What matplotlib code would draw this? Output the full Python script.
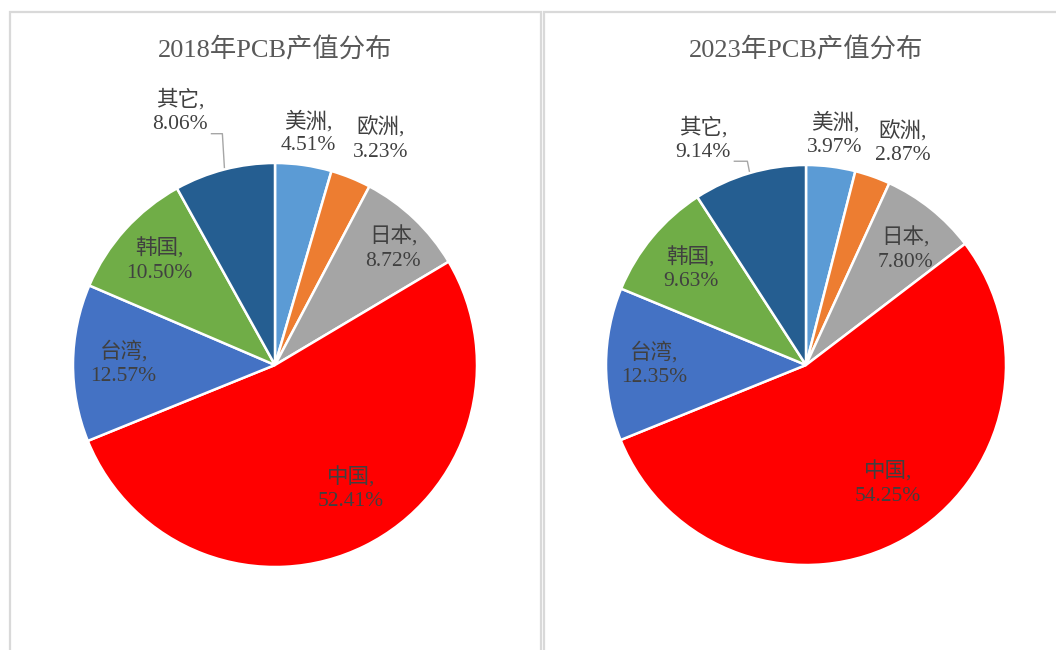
import matplotlib
matplotlib.use("Agg")
import matplotlib.pyplot as plt
import numpy as np
from matplotlib.patches import Rectangle

plt.rcParams['font.family'] = ['Liberation Serif', 'Noto Sans CJK SC', 'DejaVu Sans']

regions = ["美洲", "欧洲", "日本", "中国", "台湾", "韩国", "其它"]
share_2018 = [4.51, 3.23, 8.72, 52.41, 12.57, 10.50, 8.06]
share_2023 = [3.97, 2.87, 7.80, 54.25, 12.35, 9.63, 9.14]
titles = ["2018年PCB产值分布", "2023年PCB产值分布"]

colors = ["#5B9BD5", "#ED7D31", "#A5A5A5", "#FF0000", "#4472C4", "#70AD47", "#255E91"]
# radial distance of each label (inside for big slices, outside for small)
label_r_2018 = [1.16, 1.23, 0.82, 0.72, 0.75, 0.77, 1.34]
label_r_2023 = [1.16, 1.21, 0.76, 0.72, 0.76, 0.75, 1.24]
label_shift_2018 = [0, -3, -2, 5, 0, 0, 6]   # degrees
label_shift_2023 = [0, -4, -2, 5, 0, 0, 8]

W, H = 1056, 650
fig = plt.figure(figsize=(W / 100, H / 100), dpi=100)

# panel borders
fig.patches.append(Rectangle((10 / W, -0.1), 531 / W, (H - 12) / H + 0.1, transform=fig.transFigure,
                             fill=False, edgecolor="#D9D9D9", linewidth=1.6))
fig.patches.append(Rectangle((544 / W, -0.1), 600 / W, (H - 12) / H + 0.1, transform=fig.transFigure,
                             fill=False, edgecolor="#D9D9D9", linewidth=1.6))


def draw(cx, cy, r, vals, title, label_r, shift):
    aw = 2.5 * r
    ah = 2.8 * r
    ax = fig.add_axes([(cx - aw / 2) / W, (H - cy - ah / 2) / H, aw / W, ah / H])
    wedges, _ = ax.pie(vals, colors=colors, startangle=90, counterclock=False, radius=1,
                       wedgeprops=dict(edgecolor="white", linewidth=1.8))
    ax.set_xlim(-1.25, 1.25)
    ax.set_ylim(-1.4, 1.4)
    ax.set_aspect("equal")
    ax.axis("off")
    for i, w in enumerate(wedges):
        ang = np.deg2rad((w.theta1 + w.theta2) / 2 + shift[i])
        x = label_r[i] * np.cos(ang)
        y = label_r[i] * np.sin(ang)
        ax.text(x, y, f"{regions[i]},\n{vals[i]:.2f}%", ha="center", va="center",
                fontsize=15.5, color="#404040", linespacing=1.3)
        if i == len(wedges) - 1:
            # leader line for 其它
            mid = np.deg2rad((w.theta1 + w.theta2) / 2)
            ex, ey = np.cos(mid), np.sin(mid)
            ly = y - 0.11
            lx = x + 0.155
            ax.plot([lx, ex - 0.01, ex], [ly, ly, ey + 0.01], color="#A6A6A6", linewidth=1)
    fig.text(cx / W, 1 - 50 / H, title, ha="center", va="center", fontsize=19, color="#595959")


draw(275, 365, 202, share_2018, titles[0], label_r_2018, label_shift_2018)
draw(806, 365, 200, share_2023, titles[1], label_r_2023, label_shift_2023)

fig.savefig("out.png", dpi=100)
